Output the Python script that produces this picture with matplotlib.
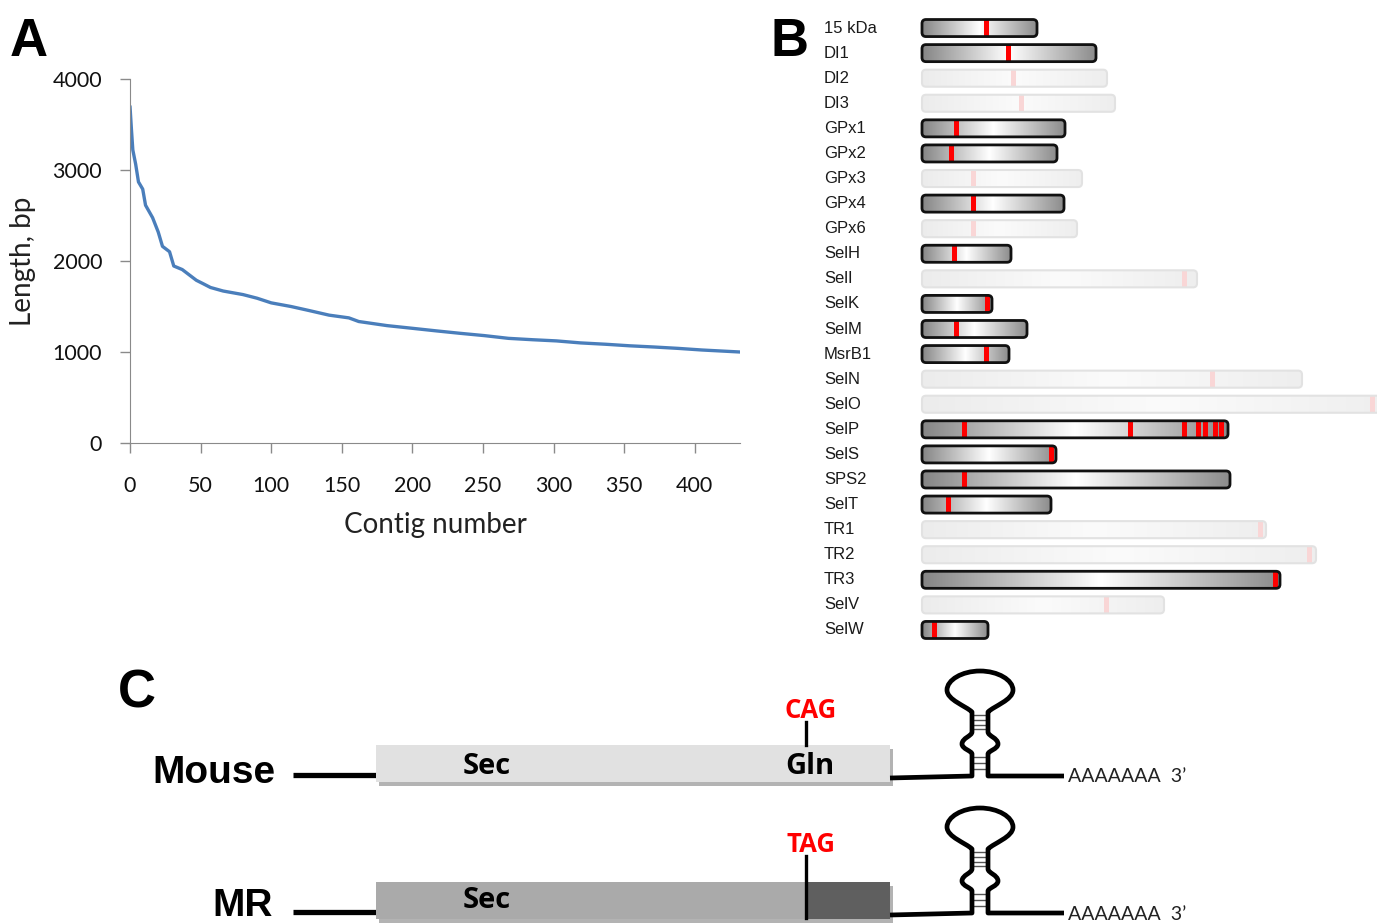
import numpy as np
import matplotlib
matplotlib.use("Agg")
import matplotlib.pyplot as plt
from matplotlib.patches import FancyBboxPatch, Rectangle, PathPatch
from matplotlib.path import Path
from matplotlib.colors import LinearSegmentedColormap

# panel A: contig lengths, sorted
contig_idx = [0, 1, 2, 4, 6, 9, 11, 16, 20, 23, 28, 31, 37, 42, 47, 52, 57, 66, 80, 90,
              100, 114, 127, 141, 155, 162, 182, 199, 217, 234, 251, 268, 285, 302, 319,
              337, 354, 371, 388, 405, 432]
contig_len = [3700, 3450, 3220, 3065, 2869, 2790, 2613, 2476, 2318, 2161, 2102, 1945, 1906,
              1847, 1788, 1749, 1709, 1670, 1631, 1591, 1540, 1500, 1455, 1405, 1375, 1335,
              1290, 1262, 1232, 1205, 1180, 1150, 1135, 1122, 1100, 1085, 1068, 1055, 1040,
              1022, 1000]

# panel B: selenoproteins, bar length and Sec positions (arbitrary units)
proteins = ["15 kDa", "DI1", "DI2", "DI3", "GPx1", "GPx2", "GPx3", "GPx4", "GPx6", "SelH",
            "SelI", "SelK", "SelM", "MsrB1", "SelN", "SelO", "SelP", "SelS", "SPS2", "SelT",
            "TR1", "TR2", "TR3", "SelV", "SelW"]
prot_len = [115, 174, 185, 193, 143, 135, 160, 142, 155, 89, 275, 70, 105, 87, 380, 480,
            306, 134, 308, 129, 344, 394, 358, 242, 66]
sec_pos = [[64], [86], [91], [99], [34], [29], [51], [51], [51], [32], [262], [65], [34],
           [64], [290], [450], [42, 208, 262, 276, 283, 293, 299], [129], [42], [26],
           [338], [387], [353], [184], [12]]
found = [True, True, False, False, True, True, False, True, False, True, False, True, True,
         True, False, False, True, True, True, True, False, False, True, False, True]

W, H = 1377, 924
fig = plt.figure(figsize=(W / 100, H / 100), dpi=100)

# ---------------- panel A
ax = fig.add_axes([130 / W, 1 - 443 / H, 610 / W, 364 / H])
ax.plot(contig_idx, contig_len, color="#4a7ebb", lw=2.4, solid_capstyle="round")
ax.set_xlim(0, 432)
ax.set_ylim(0, 4000)
ax.set_xticks(range(0, 401, 50))
ax.set_yticks(range(0, 4001, 1000))
for s in ["top", "right"]:
    ax.spines[s].set_visible(False)
for s in ["left", "bottom"]:
    ax.spines[s].set_color("#8a8a8a")
ax.tick_params(direction="out", length=7, width=1, color="#8a8a8a", labelsize=15.5,
               labelcolor="#111111")
ax.tick_params(axis="x", pad=17)
ax.tick_params(axis="y", pad=13)
for lab in ax.get_xticklabels() + ax.get_yticklabels():
    lab.set_family("Lato")
ax.set_xlabel("Contig number", fontsize=20, family="Lato", labelpad=11, color="#222222")
ax.set_ylabel("Length, bp", fontsize=20, family="Lato", labelpad=12, color="#222222")

# ---------------- panel B
row_px = 25.08
axb = fig.add_axes([900 / W, 1 - 642.5 / H, 477 / W, 627 / H])
axb.axis("off")

dark_cmap = LinearSegmentedColormap.from_list("dark", ["#858585", "#ffffff", "#8c8c8c"])
pale_cmap = LinearSegmentedColormap.from_list("pale", ["#ececec", "#fbfbfb", "#eeeeee"])
grad = np.linspace(0, 1, 256)[np.newaxis, :]
h = 0.68

for i, (name, length, marks, on) in enumerate(zip(proteins, prot_len, sec_pos, found)):
    axb.text(-98, i, name, fontsize=12, family="Liberation Sans", color="#1a1a1a",
             va="center", ha="left")
    box = FancyBboxPatch((0, i - h / 2), length, h, boxstyle="round,pad=0,rounding_size=4",
                         mutation_aspect=1 / row_px, facecolor="none",
                         edgecolor="#111111" if on else "#e2e2e2",
                         lw=2.0 if on else 1.5, zorder=4)
    axb.add_patch(box)
    im = axb.imshow(grad, cmap=dark_cmap if on else pale_cmap, aspect="auto",
                    extent=(0, length, i + h / 2, i - h / 2), interpolation="bilinear",
                    zorder=2)
    im.set_clip_path(box)
    for p in marks:
        r = Rectangle((p - 2.5, i - h / 2), 5, h, facecolor="#ff0000" if on else "#f9d6d6",
                      edgecolor="none", zorder=3)
        axb.add_patch(r)
        r.set_clip_path(box)
axb.set_xlim(-22, 455)
axb.set_ylim(len(proteins) - 0.5, -0.5)

# ---------------- panel C (schematic, pixel units)
axc = fig.add_axes([0, 0, 1, 1], facecolor="none")
axc.set_xlim(0, W)
axc.set_ylim(H, 0)
axc.axis("off")

transcripts = ["Mouse", "MR"]
name_x = [152, 212]
base_y = [776, 913]
codons = ["CAG", "TAG"]
residue = ["Gln", ""]
cds_x0, cds_x1, codon_x = 376, 890, 806
stem_x, tail_x = 980, 1064
bold_font = "Open Sans"


def stem_loop(xc, y0):
    P = Path
    verts = [(cds_x1, y0 + 2), (xc - 8, y0), (xc - 8, y0 - 22),
             (xc - 8, y0 - 25), (xc - 18, y0 - 27), (xc - 18, y0 - 32),
             (xc - 18, y0 - 38), (xc - 8, y0 - 40), (xc - 8, y0 - 44),
             (xc - 8, y0 - 64),
             (xc - 14, y0 - 70), (xc - 33, y0 - 76), (xc - 33, y0 - 86),
             (xc - 33, y0 - 96), (xc - 18, y0 - 105), (xc, y0 - 105),
             (xc + 18, y0 - 105), (xc + 33, y0 - 96), (xc + 33, y0 - 86),
             (xc + 33, y0 - 76), (xc + 14, y0 - 70), (xc + 8, y0 - 64),
             (xc + 8, y0 - 44),
             (xc + 8, y0 - 40), (xc + 18, y0 - 38), (xc + 18, y0 - 32),
             (xc + 18, y0 - 27), (xc + 8, y0 - 25), (xc + 8, y0 - 22),
             (xc + 8, y0), (tail_x, y0)]
    codes = ([P.MOVETO, P.LINETO, P.LINETO] + [P.CURVE4] * 6 + [P.LINETO] + [P.CURVE4] * 12
             + [P.LINETO] + [P.CURVE4] * 6 + [P.LINETO, P.LINETO])
    axc.add_patch(PathPatch(Path(verts, codes), facecolor="none", edgecolor="black", lw=3.4,
                            joinstyle="round", capstyle="butt", zorder=3))
    for dy in [61, 56, 51, 47, 19, 13, 7]:
        axc.plot([xc - 7, xc + 7], [y0 - dy, y0 - dy], color="#555555", lw=1, zorder=2)


for k, (name, y0) in enumerate(zip(transcripts, base_y)):
    top = y0 - 31
    if k == 0:
        axc.text(name_x[k], y0 + 7, name, fontsize=28, weight="bold",
                 family="Liberation Sans", va="baseline", ha="left")
    else:
        axc.text(name_x[k], H, name, fontsize=28, weight="bold",
                 family="Liberation Sans", va="bottom", ha="left")
    axc.plot([293, cds_x0], [y0 - 1, y0 - 1], color="black", lw=3.8, solid_capstyle="butt")
    axc.add_patch(Rectangle((cds_x0 + 3, top + 4), cds_x1 - cds_x0, 37, facecolor="#b3b3b3",
                            edgecolor="none", zorder=1))
    if k == 0:
        axc.add_patch(Rectangle((cds_x0, top), cds_x1 - cds_x0, 37, facecolor="#e1e1e1",
                                edgecolor="none", zorder=2))
        axc.plot([codon_x, codon_x], [top - 23, top], color="black", lw=2.4, zorder=3)
        axc.text(codon_x + 4, top + 21, residue[k], fontsize=21, weight="bold",
                 family=bold_font, ha="center", va="center", zorder=4)
    else:
        axc.add_patch(Rectangle((cds_x0, top), codon_x - cds_x0, 37, facecolor="#aaaaaa",
                                edgecolor="none", zorder=2))
        axc.add_patch(Rectangle((codon_x, top), cds_x1 - codon_x, 37, facecolor="#5f5f5f",
                                edgecolor="none", zorder=2))
        axc.plot([codon_x, codon_x], [top - 26, top + 36], color="black", lw=2.4, zorder=3)
    axc.text(487, top + (21 if k == 0 else 18), "Sec", fontsize=21, weight="bold",
             family=bold_font, ha="center", va="center", zorder=4)
    axc.text(codon_x + 5, top - (35 if k == 0 else 38), codons[k], fontsize=18.5,
             weight="bold", family=bold_font, color="#ff0000", ha="center", va="center")
    stem_loop(stem_x, y0)
    axc.text(1068, y0 + 1, "AAAAAAA  3\u2019", fontsize=14, family="Lato", color="#222222",
             ha="left", va="center")

# panel letters
for letter, (lx, ly) in zip("ABC", [(10, 56), (770, 56), (118, 708)]):
    axc.text(lx, ly, letter, fontsize=38, weight="bold", family="Liberation Sans",
             va="baseline", ha="left")

fig.savefig("out.png", dpi=100)
